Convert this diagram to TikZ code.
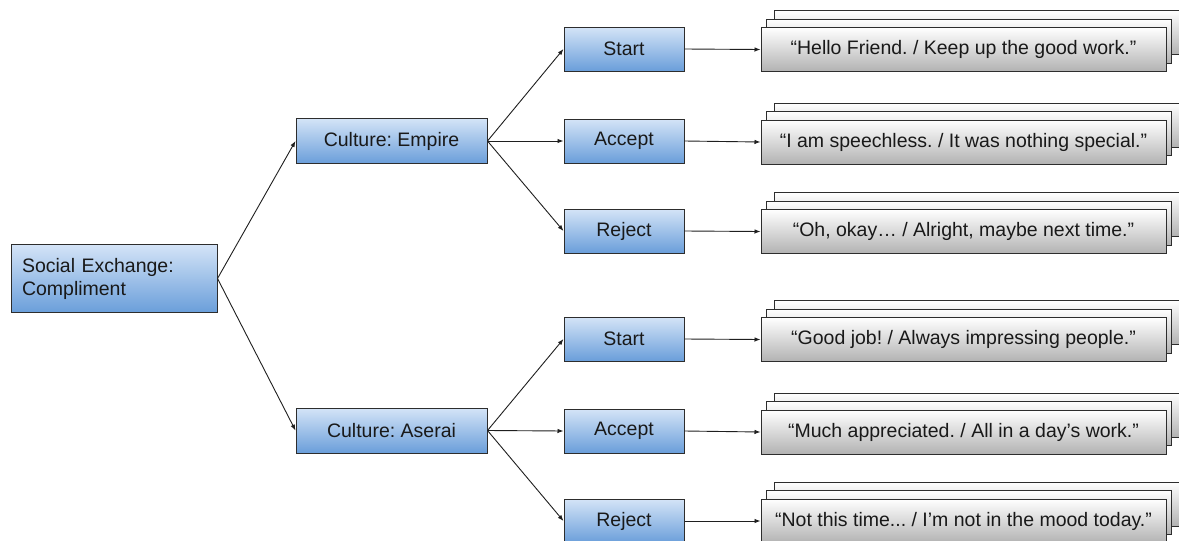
\documentclass[tikz,border=0pt]{standalone}
\usepackage{fontspec}
\setmainfont{Liberation Sans}
\usetikzlibrary{arrows.meta}
\frenchspacing

\definecolor{bluetop}{RGB}{212,228,247}
\definecolor{bluebot}{RGB}{106,158,218}
\definecolor{graybot}{RGB}{178,178,178}
\definecolor{edgecol}{RGB}{45,45,45}
\definecolor{inkcol}{RGB}{25,25,25}

\tikzset{
  box/.style={draw=edgecol, line width=1pt, top color=bluetop, bottom color=bluebot,
    inner sep=0pt, text=inkcol, font=\fontsize{19.5}{23}\selectfont},
  rootbox/.style={box, minimum width=206, minimum height=68, align=left,
    text width=184},
  lvlone/.style={box, minimum width=191, minimum height=45},
  lvltwo/.style={box, minimum width=120, minimum height=44},
  reply/.style={draw=edgecol, line width=1pt, top color=white, bottom color=graybot,
    minimum width=405, minimum height=44, inner sep=0pt, text=inkcol,
    font=\fontsize{19.5}{23}\selectfont},
  link/.style={draw=black!88, line width=0.9pt, -{Latex[length=6pt,width=4.5pt]}},
}

% a stack of three reply cards; the front one carries the text
\newcommand\replystack[3]{%
  \node[reply] (#1c) at (976.5,#2-17) {};
  \node[reply] (#1b) at (969,#2-8.5) {};
  \node[reply] (#1) at (963.5,#2) {#3};
}

\begin{document}
\begin{tikzpicture}[x=1pt,y=-1pt]
  \useasboundingbox (0,0) rectangle (1179,541);

  % root and cultures
  \node[rootbox] (root) at (114,278.5) {Social Exchange:\\Compliment};
  \node[lvlone] (emp) at (391.5,141) {Culture: Empire};
  \node[lvlone] (ase) at (391.5,430.5) {Culture: Aserai};

  % responses per culture
  \node[lvltwo] (empS) at (624,49) {Start};
  \node[lvltwo] (empA) at (624,141) {Accept};
  \node[lvltwo] (empR) at (624,231) {Reject};
  \node[lvltwo] (aseS) at (624,339) {Start};
  \node[lvltwo] (aseA) at (624,431) {Accept};
  \node[lvltwo] (aseR) at (624,521) {Reject};

  % spoken lines
  \replystack{t1}{49.5}{“Hello Friend. / Keep up the good work.”}
  \replystack{t2}{142}{“I am speechless. / It was nothing special.”}
  \replystack{t3}{231.5}{“Oh, okay… / Alright, maybe next time.”}
  \replystack{t4}{339.5}{“Good job! / Always impressing people.”}
  \replystack{t5}{432}{“Much appreciated. / All in a day’s work.”}
  \replystack{t6}{521}{“Not this time... / I’m not in the mood today.”}

  % connectors
  \draw[link] (root.east) -- (emp.west);
  \draw[link] (root.east) -- (ase.west);
  \draw[link] (emp.east) -- (empS.west);
  \draw[link] (emp.east) -- (empA.west);
  \draw[link] (emp.east) -- (empR.west);
  \draw[link] (ase.east) -- (aseS.west);
  \draw[link] (ase.east) -- (aseA.west);
  \draw[link] (ase.east) -- (aseR.west);
  \draw[link] (empS.east) -- (t1.west);
  \draw[link] (empA.east) -- (t2.west);
  \draw[link] (empR.east) -- (t3.west);
  \draw[link] (aseS.east) -- (t4.west);
  \draw[link] (aseA.east) -- (t5.west);
  \draw[link] (aseR.east) -- (t6.west);
\end{tikzpicture}
\end{document}
